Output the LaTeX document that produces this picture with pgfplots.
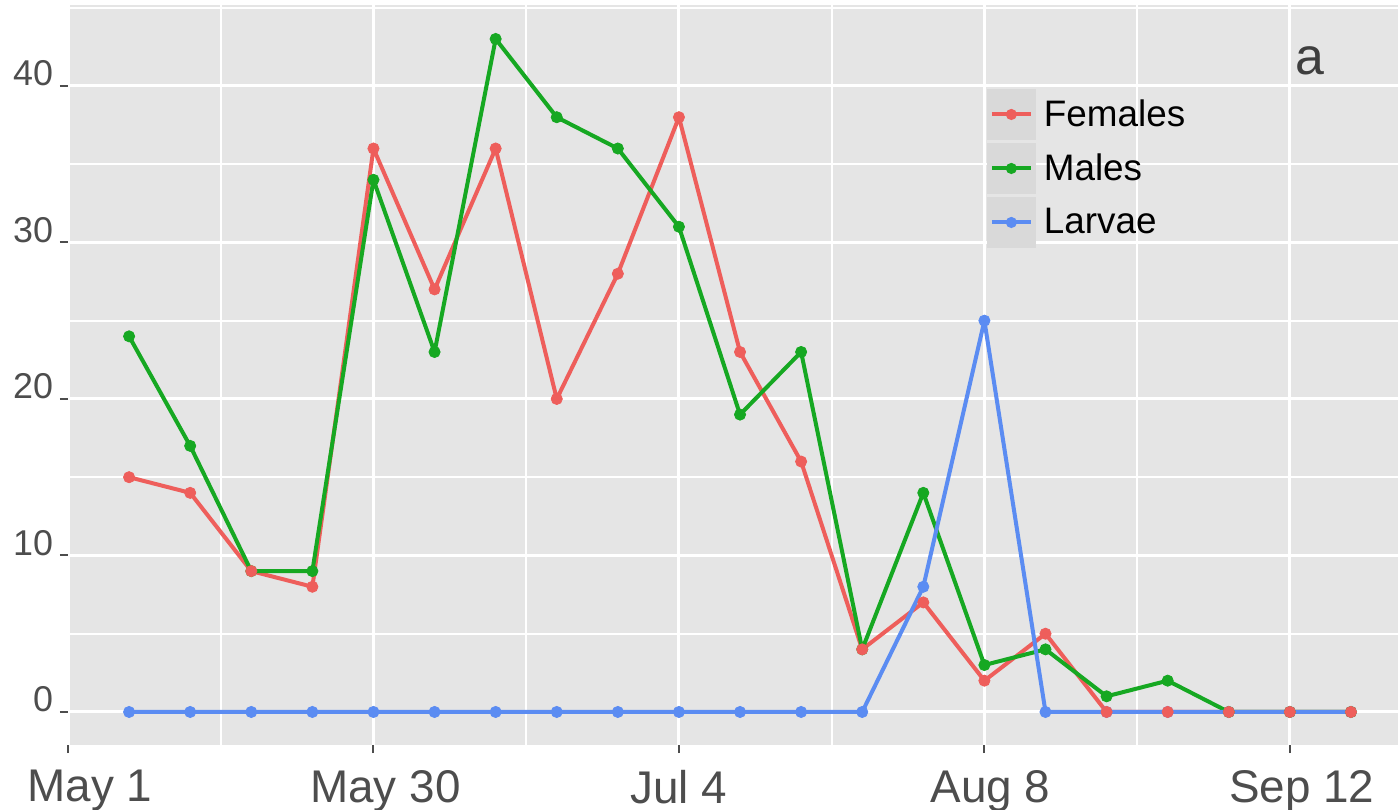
\documentclass[border=0pt]{standalone}
\usepackage{pgfplots}
\usepackage{pgfplotstable}
\pgfplotsset{compat=1.18}
\usepackage{fontspec}
\setmainfont{Liberation Sans}
\definecolor{panel}{HTML}{E5E5E5}
\definecolor{keybg}{HTML}{D9D9D9}
\definecolor{cF}{HTML}{EE5E5B}
\definecolor{cM}{HTML}{16A822}
\definecolor{cL}{HTML}{5B8CF2}
\definecolor{txt}{HTML}{4D4D4D}
\pgfplotstableread{
x F M L
1 15 24 0
2 14 17 0
3 9 9 0
4 8 9 0
5 36 34 0
6 27 23 0
7 36 43 0
8 20 38 0
9 28 36 0
10 38 31 0
11 23 19 0
12 16 23 0
13 4 4 0
14 7 14 8
15 2 3 25
16 5 4 0
17 0 1 0
18 0 2 0
19 0 0 0
20 0 0 0
21 0 0 0
}\datatab
\begin{document}
\begin{tikzpicture}
\path[use as bounding box] (0bp,0bp) rectangle (699bp,405bp);
\begin{axis}[
  at={(34bp,32.5bp)}, anchor=south west,
  scale only axis, width=665bp, height=370bp,
  xmin=0, xmax=21.77, ymin=-2.11, ymax=45.17,
  axis background/.style={fill=panel},
  axis line style={draw=none},
  xtick={0,5,10,15,20},
  xticklabels={\hspace*{22bp}May 1, \hspace*{12bp}May 30, Jul 4, \hspace*{6bp}Aug 8, \hspace*{12bp}Sep 12},
  minor xtick={2.5,7.5,12.5,17.5},
  ytick={0,10,20,30,40},
  yticklabels={0,10,20,30,40},
  minor ytick={5,15,25,35,45},
  grid=both,
  major grid style={white, line width=1.5bp},
  minor grid style={white, line width=0.9bp},
  tick align=outside, xtick pos=bottom, ytick pos=left,
  major tick length=4bp, minor tick length=0pt,
  major tick style={txt, line width=1bp},
  minor tick style={draw=none},
  /pgf/number format/assume math mode=true,
  xticklabel style={font=\fontsize{23}{27}\selectfont, text=txt, yshift=-5bp},
  yticklabel style={font=\fontsize{18}{22}\selectfont, text=txt, anchor=base east},
  legend cell align=left,
  legend style={at={(axis cs:15.04,39.9)}, anchor=north west, draw=none, fill=none,
    inner sep=0pt, outer sep=0pt, row sep=0pt, /tikz/column sep=4bp,
    font=\fontsize{18.5}{22}\selectfont, nodes={inner sep=0pt}},
  legend image code/.code={
    \path[fill=keybg, draw=none] (0bp,-12.8bp) rectangle (24.5bp,12.8bp);
    \path[draw=none, fill=none] (0bp,-13.5bp) rectangle (24.5bp,13.5bp);
    \draw[#1, line width=2bp] (2.5bp,0bp) -- (22bp,0bp);
    \path[draw=none, fill=#1] (12.25bp,0bp) circle (2.8bp);
  },
]
\addplot[cF, line width=2bp, line join=round] table[x=x, y=F] {\datatab};
\addlegendentry{Females}
\addplot[cM, line width=2bp, line join=round] table[x=x, y=M] {\datatab};
\addlegendentry{Males}
\addplot[cL, line width=2bp, line join=round] table[x=x, y=L] {\datatab};
\addlegendentry{Larvae}
\addplot[cL, only marks, mark=*, mark size=2.8bp, mark options={draw=none, fill=cL}, forget plot] table[x=x, y=L] {\datatab};
\addplot[cM, only marks, mark=*, mark size=2.8bp, mark options={draw=none, fill=cM}, forget plot] table[x=x, y=M] {\datatab};
\addplot[cF, only marks, mark=*, mark size=2.8bp, mark options={draw=none, fill=cF}, forget plot] table[x=x, y=F] {\datatab};
\node[anchor=base, font=\fontsize{26}{30}\selectfont, text=txt!80!black] at (axis cs:20.33,40.7) {a};
\end{axis}
\end{tikzpicture}
\end{document}
